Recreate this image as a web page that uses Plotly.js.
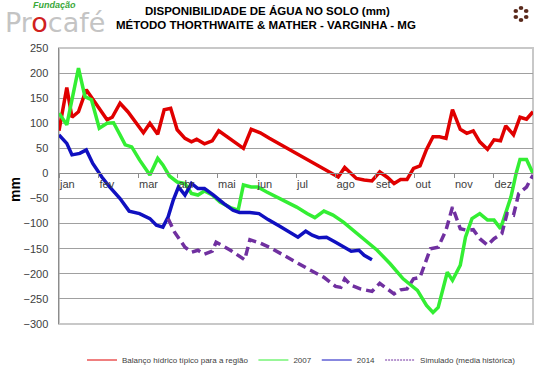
<!DOCTYPE html>
<html>
<head>
<meta charset="utf-8">
<script src="https://cdn.plot.ly/plotly-3.0.1.min.js"></script>
<style>
html,body{margin:0;padding:0;background:#fff;}
#chart{width:538px;height:368px;}
</style>
</head>
<body>
<div id="chart"></div>
<script>
// Month tick labels
const months = ["jan","fev","mar","abr","mai","jun","jul","ago","set","out","nov","dez"];

// Balanço hídrico típico para a região (day of year, mm)
const redX = [0,6,10,15,21,37,41,47,53,60,65,70,76,81,86,91,97,102,106,112,118,123,142,148,155,162,215,220,224,229,235,241,247,253,258,263,268,273,278,283,288,293,298,303,309,314,319,324,330,335,340,344,350,355,360,365];
const redY = [85,171,112,123,167,107,112,140,123,97,81,100,78,127,130,87,70,63,68,59,65,85,50,88,81,70,-7,12,3,-10,-13,-15,3,-8,-20,-12,-12,10,15,48,73,73,70,127,88,80,85,63,48,67,65,95,77,112,108,123];

// 2007
const greenX = [0,6,15,20,25,31,37,42,47,51,56,62,70,76,80,85,91,97,102,107,112,118,124,132,138,142,148,153,160,168,175,183,191,197,204,211,219,225,234,245,255,265,276,283,288,292,299,303,309,313,318,324,330,335,340,344,348,352,355,360,365];
const greenY = [120,97,210,153,147,90,100,101,77,57,53,27,-3,30,17,-5,-17,-20,-40,-43,-35,-43,-57,-68,-73,-23,-27,-27,-37,-47,-57,-67,-80,-88,-75,-83,-97,-110,-130,-153,-180,-210,-233,-263,-277,-267,-197,-213,-183,-127,-90,-80,-93,-93,-110,-80,-47,0,28,28,0];

// 2014
const blueX = [0,6,10,16,21,26,33,39,47,54,62,70,75,80,84,88,92,97,102,107,112,119,127,134,139,147,154,161,170,178,184,190,195,200,206,213,219,225,231,235,241];
const blueY = [77,60,37,40,47,20,-7,-27,-50,-75,-80,-90,-103,-107,-87,-53,-27,-43,-20,-30,-30,-43,-60,-73,-78,-78,-80,-92,-105,-117,-127,-115,-123,-128,-127,-137,-147,-155,-153,-163,-172];

// Simulado (media histórica)
const purpleX = [84,89,97,102,107,112,118,121,132,143,147,155,162,173,183,193,204,213,217,220,225,232,241,247,258,263,268,273,278,286,292,298,303,309,314,319,324,330,335,341,345,350,354,360,365];
const purpleY = [-90,-117,-147,-157,-153,-161,-155,-137,-153,-172,-132,-139,-147,-163,-179,-192,-207,-225,-227,-210,-223,-230,-235,-219,-240,-232,-230,-210,-207,-150,-147,-113,-67,-110,-113,-112,-130,-143,-130,-120,-80,-83,-40,-27,-3];

const seriesNames = ["Balanço hídrico típico para a região","2007","2014","Simulado (media histórica)"];
const colors = ["#E00000","#33EE33","#1010C0","#7030A0"];
const titleLines = ["DISPONIBILIDADE DE ÁGUA NO SOLO (mm)","MÉTODO THORTHWAITE & MATHER - VARGINHA - MG"];
const yTitle = "mm";
const xRange = [0,365];
const yRange = [-300,250], yStep = 50;

const W=538,H=368,L=59,R=5,T=48,B=44;
const pw=W-L-R, ph=H-T-B;
function px(x){return (x-L)/pw;}
function py(y){return (H-B-y)/ph;}

const data = [];
const xs=[redX,greenX,blueX,purpleX], ys=[redY,greenY,blueY,purpleY];
for(let i=0;i<4;i++){
  data.push({x:xs[i],y:ys[i],type:'scatter',mode:'lines',showlegend:false,
    line:{color:colors[i],width:3.5,dash:i===3?'9px,5px':'solid'},hoverinfo:'skip'});
}
for(let i=0;i<4;i++){
  data.push({x:[null],y:[null],type:'scatter',mode:'lines',name:seriesNames[i],showlegend:true,
    xaxis:i===0?'x2':'x',
    line:{color:colors[i],width:1,dash:i===3?'2px,1px':'solid'}});
}

const tickvals = months.map((m,i)=>i*365/12);

const shapes = [
  {type:'rect',xref:'paper',yref:'paper',x0:0,x1:1,y0:0,y1:1,layer:'below',fillcolor:'rgba(0,0,0,0)',line:{color:'#c8c8c8',width:2}}
];
// coffee bean ring icon
const cx=px(521), cy=py(14);
for(let k=0;k<6;k++){
  const a=k*Math.PI/3+Math.PI/6;
  const dx=6*Math.cos(a), dy=6*Math.sin(a);
  shapes.push({type:'circle',xref:'paper',yref:'paper',xsizemode:'pixel',ysizemode:'pixel',
    xanchor:cx,yanchor:cy,x0:dx-2.3,x1:dx+2.3,y0:dy-2,y1:dy+2,fillcolor:'#5a2a1c',line:{width:0}});
}

const annotations = [
  {xref:'paper',yref:'paper',x:px(31),y:py(5),xanchor:'left',yanchor:'middle',showarrow:false,
   text:'<b><i>Fundação</i></b>',font:{family:'Liberation Sans, Arial',size:9,color:'#3aa83a'}},
  {xref:'paper',yref:'paper',x:px(3),y:py(22),xanchor:'left',yanchor:'middle',showarrow:false,
   text:'Pr<span style="color:#d02020">o</span>café',font:{family:'DejaVu Sans',size:27,color:'#c4c4c4'}},
  {xref:'paper',yref:'paper',x:px(267),y:py(11),xanchor:'center',yanchor:'middle',showarrow:false,
   text:'<b>'+titleLines[0]+'</b>',font:{family:'Liberation Sans, Arial',size:11.5,color:'#000'}},
  {xref:'paper',yref:'paper',x:px(266),y:py(25),xanchor:'center',yanchor:'middle',showarrow:false,
   text:'<b>'+titleLines[1]+'</b>',font:{family:'Liberation Sans, Arial',size:11.5,color:'#000'}},
  {xref:'paper',yref:'paper',x:px(15),y:py(190),xanchor:'center',yanchor:'middle',showarrow:false,textangle:-90,
   text:'<b>'+yTitle+'</b>',font:{family:'Liberation Sans, Arial',size:14,color:'#000'}}
];

const layout = {
  width:W,height:H,
  margin:{l:L,r:R,t:T,b:B,autoexpand:false},
  paper_bgcolor:'#fff',plot_bgcolor:'rgba(0,0,0,0)',
  xaxis:{range:xRange,showgrid:false,zeroline:false,showline:false,showticklabels:false,ticks:'',automargin:false,fixedrange:true},
  xaxis2:{range:xRange,overlaying:'x',side:'bottom',anchor:'free',position:300/550,showgrid:false,zeroline:false,automargin:false,
    showline:true,linecolor:'#8c8c8c',linewidth:1,ticks:'outside',ticklen:4,tickcolor:'#8c8c8c',
    tickvals:tickvals,ticktext:months,ticklabelposition:'outside right',
    tickfont:{family:'Liberation Sans, Arial',size:11,color:'#404040'},fixedrange:true},
  yaxis:{range:yRange,dtick:yStep,tick0:0,showgrid:true,gridcolor:'#a0a0a0',gridwidth:1,
    zeroline:false,showline:true,linecolor:'#8c8c8c',linewidth:1.5,ticks:'',ticklabelstandoff:7,automargin:false,
    tickfont:{family:'Liberation Sans, Arial',size:11,color:'#404040'}},
  legend:{orientation:'h',x:px(82),xanchor:'left',y:py(360),yanchor:'middle',
    font:{family:'Liberation Sans, Arial',size:8,color:'#404040'},bgcolor:'rgba(0,0,0,0)'},
  shapes:shapes,
  annotations:annotations,
  showlegend:true
};

Plotly.newPlot('chart',data,layout,{displayModeBar:false,staticPlot:true});
</script>
</body>
</html>
